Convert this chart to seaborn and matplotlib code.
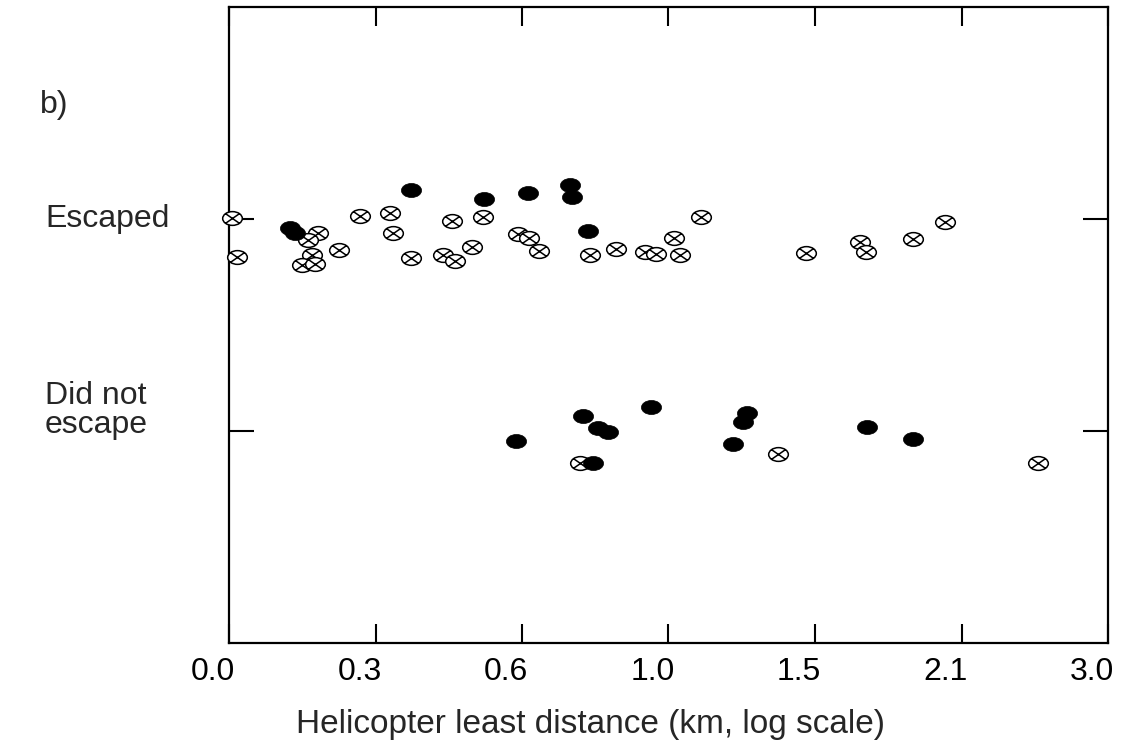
import numpy as np
import matplotlib
matplotlib.use("Agg")
import matplotlib.pyplot as plt
from matplotlib.path import Path
from matplotlib.transforms import ScaledTranslation, blended_transform_factory
import seaborn as sns

sns.set_theme(style="white")
plt.rcParams['font.family'] = ['Liberation Sans', 'DejaVu Sans']

# 数据：直升机最近距离 (km) 和纵向抖动位置
escaped_open_km = [0.004, 0.012, 0.150, 0.133, 0.139, 0.121, 0.145, 0.188, 0.229, 0.288,
                   0.294, 0.332, 0.420, 0.491, 0.400, 0.427, 0.464, 0.576, 0.603, 0.627,
                   0.764, 0.837, 0.923, 0.957, 1.014, 1.032, 1.099, 1.476, 1.697, 1.721,
                   1.930, 2.082]
escaped_open_y = [2.003, 1.819, 1.935, 1.901, 1.830, 1.783, 1.788, 1.854, 2.016, 2.027,
                  1.933, 1.817, 1.992, 2.008, 1.830, 1.803, 1.867, 1.929, 1.909, 1.850,
                  1.830, 1.857, 1.844, 1.835, 1.909, 1.830, 2.011, 1.838, 1.893, 1.846,
                  1.906, 1.984]
escaped_filled_km = [0.101, 0.109, 0.332, 0.494, 0.600, 0.709, 0.714, 0.759]
escaped_filled_y = [1.956, 1.933, 2.137, 2.094, 2.124, 2.160, 2.105, 1.945]

notesc_open_km = [0.736, 1.371, 2.568]
notesc_open_y = [0.850, 0.892, 0.848]
notesc_filled_km = [0.570, 0.745, 0.787, 0.815, 0.941, 1.256, 1.242, 1.207, 0.773, 1.725, 1.932]
notesc_filled_y = [0.954, 1.071, 1.013, 0.997, 1.112, 1.086, 1.041, 0.939, 0.848, 1.020, 0.962]

outcome_labels = ["Escaped", "Did not\nescape"]
outcome_pos = [2, 1]
tick_labels = ["0.0", "0.3", "0.6", "1.0", "1.5", "2.1", "3.0"]
tick_log = [0.0, 0.1, 0.2, 0.3, 0.4, 0.5, 0.6]

# 椭圆标记，以及带叉的空心椭圆
circ = Path.unit_circle()
ell_verts = circ.vertices * [1.0, 0.7]
ellipse = Path(ell_verts, circ.codes)
cx, cy = 0.72, 0.5
cross_verts = np.vstack([ell_verts, [[-cx, cy], [cx, -cy], [-cx, -cy], [cx, cy]]])
cross_codes = np.concatenate([circ.codes, [Path.MOVETO, Path.LINETO, Path.MOVETO, Path.LINETO]])
ellipse_x = Path(cross_verts, cross_codes)

fig = plt.figure(figsize=(11.23, 7.47), dpi=100)
ax = fig.add_axes([229 / 1123, 1 - 643 / 747, (1108 - 229) / 1123, (643 - 7) / 747])

open_km = escaped_open_km + notesc_open_km
open_y = escaped_open_y + notesc_open_y
filled_km = escaped_filled_km + notesc_filled_km
filled_y = escaped_filled_y + notesc_filled_y

sns.scatterplot(x=open_km, y=open_y, marker=ellipse_x, s=200, color="white",
                edgecolor="black", linewidth=1.1, ax=ax, clip_on=False, zorder=3)
sns.scatterplot(x=filled_km, y=filled_y, marker=ellipse, s=210, color="black",
                edgecolor="black", linewidth=0.5, ax=ax, clip_on=False, zorder=4)

ax.set_xscale('function', functions=(lambda x: np.log10(np.maximum(x, 0) + 1),
                                     lambda u: 10 ** u - 1))
ax.set_xlim(0, 10 ** 0.6 - 1)
ax.set_ylim(0, 3)

ax.set_xticks([10 ** t - 1 for t in tick_log])
ax.set_xticklabels(tick_labels, fontsize=23)
ax.set_yticks(outcome_pos)
ax.set_yticklabels([])
ax.tick_params(axis='x', which='major', direction='in', length=14, width=1.5,
               top=True, bottom=True, pad=10, colors='black')
ax.tick_params(axis='y', which='major', direction='in', length=18, width=1.5,
               left=True, right=True, colors='black')
ax.minorticks_off()
for lab in ax.get_xticklabels():
    lab.set_transform(lab.get_transform() + ScaledTranslation(-0.16, 0, fig.dpi_scale_trans))

for sp in ax.spines.values():
    sp.set_color('black')
    sp.set_linewidth(1.6)
ax.grid(False)

ax.set_xlabel("Helicopter least distance (km, log scale)", fontsize=24)
ax.xaxis.set_label_coords(0.411, -0.104)
ax.set_ylabel("")

trans = blended_transform_factory(fig.transFigure, ax.transData)
ax.text(45 / 1123, 2.0, outcome_labels[0], transform=trans, fontsize=23,
        ha='left', va='center')
ax.text(45 / 1123, 1.095, outcome_labels[1], transform=trans, fontsize=23,
        ha='left', va='center', linespacing=0.95)

fig.text(40 / 1123, 1 - 105 / 747, "b)", fontsize=23, ha='left', va='center')

fig.savefig("out.png", dpi=100)
